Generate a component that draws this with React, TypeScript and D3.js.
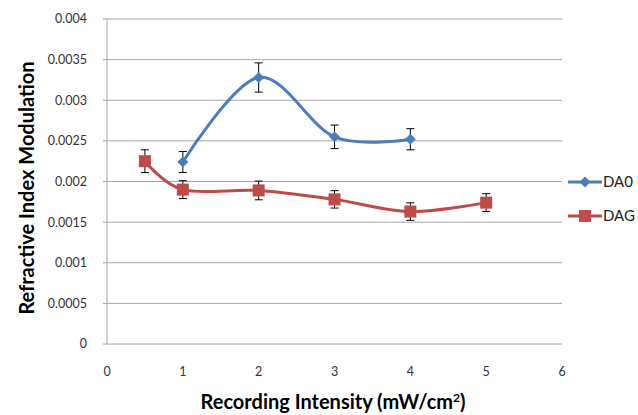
import React from "react";
import * as d3 from "d3";

const yTicks = [0, 0.0005, 0.001, 0.0015, 0.002, 0.0025, 0.003, 0.0035, 0.004];
const xTicks = [0, 1, 2, 3, 4, 5, 6];

const da0X = [1, 2, 3, 4];
const da0Y = [0.00224, 0.00328, 0.00255, 0.00252];
const da0Err = [0.00013, 0.00018, 0.000145, 0.00013];

const dagX = [0.5, 1, 2, 3, 4, 5];
const dagY = [0.00225, 0.0019, 0.00189, 0.00178, 0.00163, 0.00174];
const dagErr = [0.00014, 0.00011, 0.000115, 0.000107, 0.000108, 0.00011];

const seriesNames = ["DA0", "DAG"];
const colors = ["#4A7EBB", "#BE4B48"];

const W = 638, H = 415;
const left = 107, right = 562, top = 19, bottom = 344;

export default function App() {
  const x = d3.scaleLinear().domain([0, 6]).range([left, right]);
  const y = d3.scaleLinear().domain([0, 0.004]).range([bottom, top]);
  const line = d3
    .line<[number, number]>()
    .x((d) => x(d[0]))
    .y((d) => y(d[1]))
    .curve(d3.curveCatmullRom.alpha(0));

  const series = [
    { xs: da0X, ys: da0Y, es: da0Err, name: seriesNames[0], color: colors[0], marker: "diamond" },
    { xs: dagX, ys: dagY, es: dagErr, name: seriesNames[1], color: colors[1], marker: "square" },
  ];

  const font = "Lato, 'Open Sans', sans-serif";

  const marker = (m: string, cx: number, cy: number, c: string, key: string) =>
    m === "diamond" ? (
      <path key={key} d={`M${cx},${cy - 5.5}L${cx + 5.5},${cy}L${cx},${cy + 5.5}L${cx - 5.5},${cy}Z`} fill={c} />
    ) : (
      <rect key={key} x={cx - 6} y={cy - 6} width={12} height={12} fill={c} />
    );

  return (
    <svg width={W} height={H} style={{ position: "absolute", left: 0, top: 0, background: "#fff" }}>
      {yTicks.map((t) => (
        <line key={"g" + t} x1={left} x2={right} y1={y(t)} y2={y(t)} stroke="#A6A6A6" strokeWidth={1} />
      ))}
      <line x1={left} x2={left} y1={top} y2={bottom} stroke="#A6A6A6" />
      {yTicks.map((t) => (
        <line key={"yt" + t} x1={left - 4} x2={left} y1={y(t)} y2={y(t)} stroke="#A6A6A6" />
      ))}
      {yTicks.map((t) => (
        <text key={"yl" + t} x={87} y={y(t)} dy="0.35em" textAnchor="end" fontSize={12.5} fill="#333" fontFamily={font}>
          {String(t)}
        </text>
      ))}
      {xTicks.map((t) => (
        <text key={"xl" + t} x={x(t)} y={372} dy="0.35em" textAnchor="middle" fontSize={12.5} fill="#333" fontFamily={font}>
          {t}
        </text>
      ))}
      <text
        transform={`translate(27,${188}) rotate(-90)`}
        textAnchor="middle"
        dy="0.35em"
        fontSize={20}
        fontWeight="bold"
        fontFamily={font}
        fill="#000"
      >
        Refractive Index Modulation
      </text>
      <text x={333} y={402} dy="0.35em" textAnchor="middle" fontSize={20} fontWeight="bold" fontFamily={font} fill="#000">
        Recording Intensity (mW/cm<tspan dy="-7" fontSize={12}>2</tspan><tspan dy="7">)</tspan>
      </text>

      {series.map((s, si) => {
        const pts: [number, number][] = s.xs.map((v, i) => [v, s.ys[i]]);
        return (
          <g key={"s" + si}>
            <path d={line(pts) || ""} fill="none" stroke={s.color} strokeWidth={3} />
            {pts.map((p, i) => (
              <g key={"e" + i} stroke="#000" strokeWidth={1}>
                <line x1={x(p[0])} x2={x(p[0])} y1={y(p[1] + s.es[i])} y2={y(p[1] - s.es[i])} />
                <line x1={x(p[0]) - 4} x2={x(p[0]) + 4} y1={y(p[1] + s.es[i])} y2={y(p[1] + s.es[i])} />
                <line x1={x(p[0]) - 4} x2={x(p[0]) + 4} y1={y(p[1] - s.es[i])} y2={y(p[1] - s.es[i])} />
              </g>
            ))}
            {pts.map((p, i) => marker(s.marker, x(p[0]), y(p[1]), s.color, "m" + i))}
          </g>
        );
      })}

      {series.map((s, si) => {
        const ly = 182 + si * 34;
        return (
          <g key={"lg" + si}>
            <line x1={568} x2={602} y1={ly} y2={ly} stroke={s.color} strokeWidth={3} />
            {marker(s.marker, 585, ly, s.color, "lm" + si)}
            <text x={603} y={ly} dy="0.35em" fontSize={15} fill="#222" fontFamily={font}>
              {s.name}
            </text>
          </g>
        );
      })}
    </svg>
  );
}
